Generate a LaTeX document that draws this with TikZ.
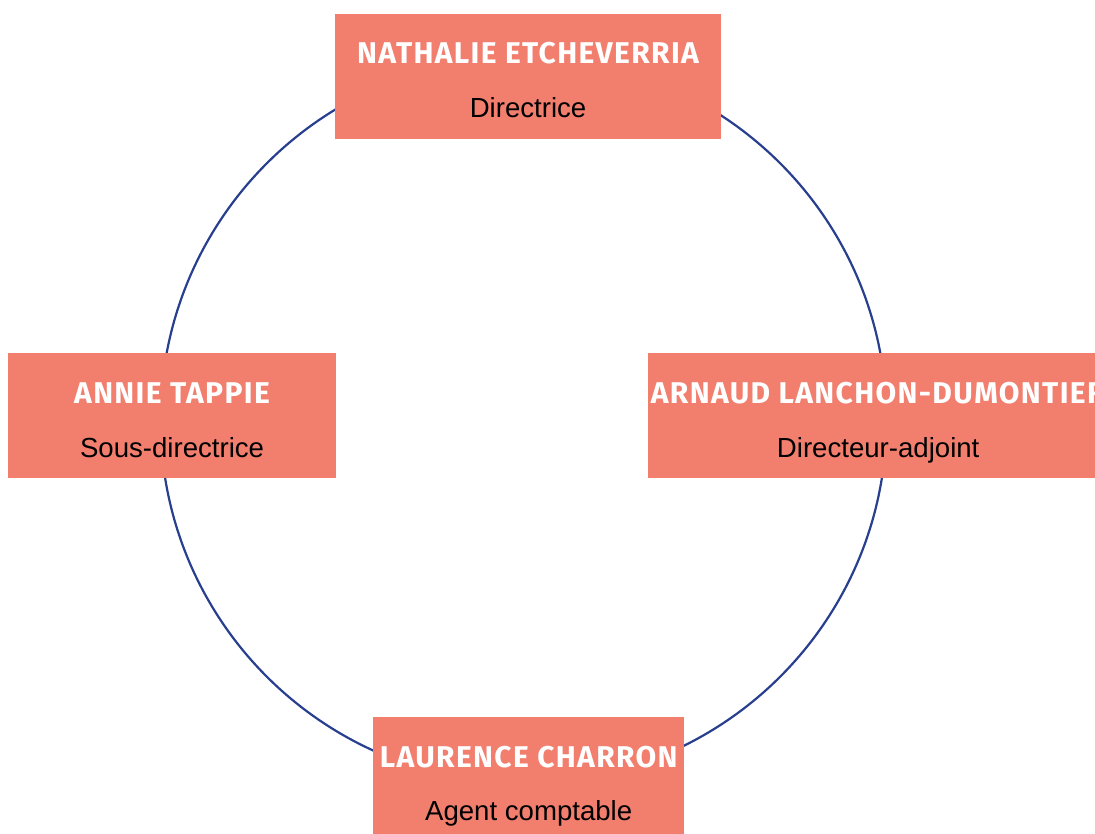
\documentclass[tikz,border=0pt]{standalone}
\usepackage{fontspec}
\setmainfont{Liberation Sans}
\newfontfamily\namefamily[LetterSpace=4.5]{Fira Sans}
\usetikzlibrary{positioning,calc}

\definecolor{salmon}{HTML}{F27E6E}
\definecolor{ringblue}{HTML}{273F8E}

\begin{document}
\begin{tikzpicture}[
  x=1pt, y=1pt,
  box/.style={fill=salmon, draw=none, minimum height=124.5pt, inner sep=0pt, anchor=north west},
  person/.style={font=\namefamily\bfseries\fontsize{30}{36}\selectfont, text=white, anchor=base, inner sep=0pt},
  role/.style={font=\fontsize{27.6}{32}\selectfont, text=black, anchor=base, inner sep=0pt},
  ring/.style={draw=ringblue, line width=2.2pt}
]
\clip (0,0) rectangle (1095,-834);

\coordinate (centre) at (523.5,-420);
\draw[ring] (centre) circle[radius=363];

\node[box, minimum width=385.7pt] (top) at (335,-14) {};
\node[person] (topname) at ([yshift=-50pt]top.north) {NATHALIE ETCHEVERRIA};
\node[role] (toprole) at ([yshift=-103.5pt]top.north) {Directrice};

\node[box, minimum width=327.7pt] (left) at (8,-353) {};
\node[person] (leftname) at ([yshift=-50.5pt]left.north) {ANNIE TAPPIE};
\node[role] (leftrole) at ([yshift=-104pt]left.north) {Sous-directrice};

\node[box, minimum width=460pt] (right) at (648,-353) {};
\node[person] (rightname) at ([yshift=-50.5pt]right.north) {ARNAUD LANCHON-DUMONTIER};
\node[role] (rightrole) at ([yshift=-104pt]right.north) {Directeur-adjoint};

\node[box, minimum width=311pt] (bottom) at (373,-717) {};
\node[person] (bottomname) at ([yshift=-50.7pt]bottom.north) {LAURENCE CHARRON};
\node[role] (bottomrole) at ([yshift=-103.7pt]bottom.north) {Agent comptable};
\end{tikzpicture}
\end{document}
